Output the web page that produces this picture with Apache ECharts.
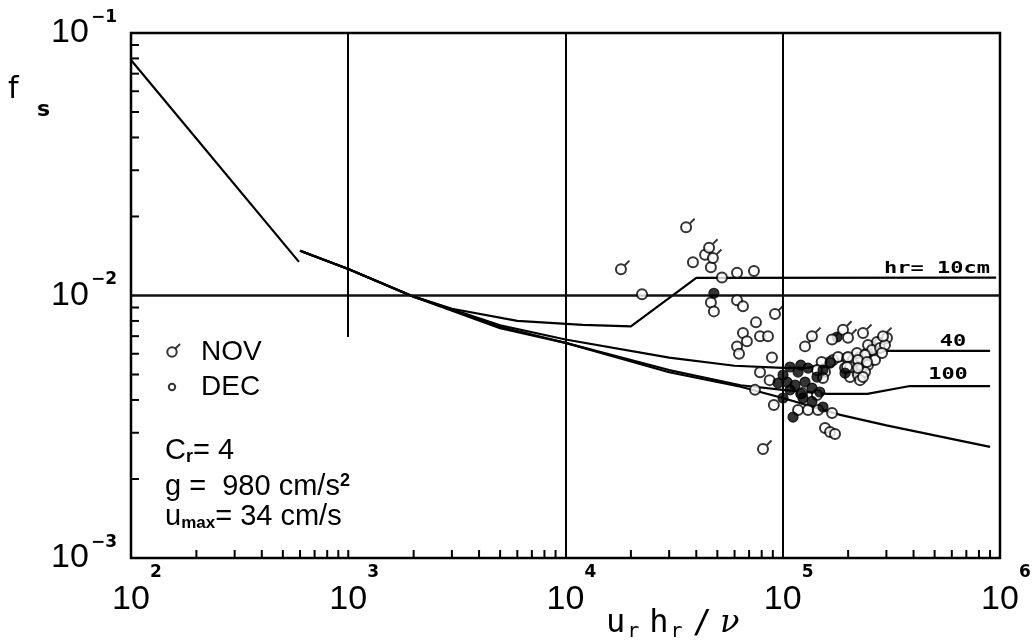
<!DOCTYPE html>
<html>
<head>
<meta charset="utf-8">
<script src="https://cdn.jsdelivr.net/npm/echarts@6/dist/echarts.min.js"></script>
<style>
  html, body { margin: 0; padding: 0; background: #fff; }
  #chart { width: 1035px; height: 643px; }
</style>
</head>
<body>
<div id="chart"></div>
<script>
// Axis decades and their exponent labels
const xTickPowers = [2, 3, 4, 5, 6];
const xTickExponents = ['2', '3', '4', '5', '6'];
const yTickPowers = [-3, -2, -1];
const yTickExponents = ['\u22123', '\u22122', '\u22121'];

// Minor tick positions (2..9 within each decade)
const xMinorTicks = [200,300,400,500,600,700,800,900,1000,
  2000,3000,4000,5000,6000,7000,8000,9000,
  20000,30000,40000,50000,60000,70000,80000,90000,
  200000,300000,400000,500000,600000,700000,800000,900000];
const yMinorTicks = [0.002,0.003,0.004,0.005,0.006,0.007,0.008,0.009,
  0.02,0.03,0.04,0.05,0.06,0.07,0.08,0.09];

// Reference lines
const gridX = [1e4, 1e5];
const gridY = [0.01];
const partialGridX = 1000, partialGridTop = 0.1, partialGridBottom = 0.00695;

// Friction factor curves
const laminar = [[100, 0.0789], [593, 0.01343]];
const curveH10 = [[600, 0.0148], [1000, 0.01262], [2000, 0.0099], [3000, 0.0089], [6000, 0.0080],
  [12000, 0.00773], [20000, 0.00763], [40000, 0.01167], [960000, 0.0117]];
const curveH40 = [[600, 0.0148], [1000, 0.01262], [2000, 0.0099], [5000, 0.0077], [10000, 0.0068],
  [30000, 0.0058], [60000, 0.0054], [100000, 0.0053], [130000, 0.0053], [295000, 0.00615], [900000, 0.00615]];
const curveH100 = [[600, 0.0148], [1000, 0.01262], [2000, 0.0099], [5000, 0.0076], [10000, 0.0066],
  [30000, 0.0052], [64000, 0.00455], [100000, 0.00437], [160000, 0.00422], [245000, 0.00422],
  [385000, 0.00452], [900000, 0.00452]];
const curveSmooth = [[600, 0.0148], [1000, 0.01262], [2000, 0.0099], [5000, 0.0075], [10000, 0.0066],
  [30000, 0.0051], [64000, 0.00449], [100000, 0.00407], [184000, 0.00351], [300000, 0.0032], [900000, 0.00265]];

// Measurements
const novPoints = [
  [35900, 0.0182], [18000, 0.0126], [45800, 0.0152], [47700, 0.0139],
  [92100, 0.0085], [126600, 0.0064], [136300, 0.0070], [168600, 0.0068],
  [189400, 0.0074], [199700, 0.0069], [234100, 0.0072], [289400, 0.0070],
  [81100, 0.0026]
];
const decPoints = [
  [38600, 0.0134], [43900, 0.0143], [46700, 0.0128], [52500, 0.0117], [61600, 0.0122], [73700, 0.0124],
  [22500, 0.0101], [46700, 0.0094], [48200, 0.0087], [61600, 0.0096], [65600, 0.0091],
  [75300, 0.0079], [65600, 0.0072], [68400, 0.0067], [78600, 0.0070], [85500, 0.0070],
  [61600, 0.0064], [62900, 0.0060], [89200, 0.0058],
  [78600, 0.0051], [87000, 0.00476], [74500, 0.00437], [91000, 0.00383],
  [117600, 0.00366], [130700, 0.00366], [145300, 0.00366], [168600, 0.00357],
  [156500, 0.00313], [165100, 0.00302], [174000, 0.00297],
  [156500, 0.00511], [170400, 0.00568], [179700, 0.00583], [197600, 0.00578], [210500, 0.00568],
  [226800, 0.00583], [244300, 0.00604], [260300, 0.00637], [280400, 0.00659], [301900, 0.00689],
  [246900, 0.00648], [271600, 0.00665], [257600, 0.00620], [280400, 0.00631], [295500, 0.00648],
  [193500, 0.00529], [210500, 0.00520], [231600, 0.00529], [246900, 0.00543], [265900, 0.00568], [286400, 0.00604],
  [204000, 0.00489], [221900, 0.00498], [239100, 0.00511], [226800, 0.00476], [234100, 0.00489],
  [219600, 0.00604], [239100, 0.00593], [221900, 0.00568], [244300, 0.00558], [199700, 0.00583],
  [204000, 0.00534], [221900, 0.00529], [197600, 0.00534], [165100, 0.00558], [151000, 0.00558],
  [143700, 0.00520], [153200, 0.00485], [122600, 0.00425], [143700, 0.00418]
];
const decDensePoints = [
  [48200, 0.0102], [177800, 0.00695], [108000, 0.00534], [117600, 0.00511], [104600, 0.00468],
  [113900, 0.00456], [126600, 0.00468], [136300, 0.00444], [143700, 0.00489], [153200, 0.00520],
  [165100, 0.00553], [100300, 0.00407], [111500, 0.00344], [123900, 0.00407], [153200, 0.00376],
  [193500, 0.00506], [100300, 0.00498], [108000, 0.00437], [121000, 0.00543], [130700, 0.00529],
  [95100, 0.00464], [121000, 0.00422], [136300, 0.00395], [148000, 0.00429]
];

const NUM_FONT = "'Liberation Sans', 'DejaVu Sans', sans-serif";
const NOV_SYMBOL = 'path://M4,20M7.3,12A4.7,4.7,0,1,1,16.7,12A4.7,4.7,0,1,1,7.3,12ZM15.4,8.6L20,4';
const DEC_ICON = 'path://M4,20M20,4M8.8,12A3.2,3.2,0,1,1,15.2,12A3.2,3.2,0,1,1,8.8,12Z';

const xMin = 100, xMax = 1e6, yMin = 0.001, yMax = 0.1;

function powerOf(v) { return Math.round(Math.log10(v)); }

function lineSeries(data, extra) {
  return Object.assign({
    type: 'line', data: data, showSymbol: false, symbol: 'none', silent: true,
    lineStyle: { color: '#000', width: 2.2 }, z: 2, animation: false
  }, extra || {});
}

function tickSeries(data, horizontal) {
  return {
    type: 'custom', coordinateSystem: 'cartesian2d', silent: true, clip: false, z: 3,
    data: data,
    renderItem: function (params, api) {
      const p = api.coord([api.value(0), api.value(1)]);
      const shape = horizontal
        ? { x1: p[0], y1: p[1], x2: p[0] + 8, y2: p[1] }
        : { x1: p[0], y1: p[1], x2: p[0], y2: p[1] - 8 };
      return { type: 'line', shape: shape, style: { stroke: '#000', lineWidth: 2 } };
    }
  };
}

const chart = echarts.init(document.getElementById('chart'));

chart.setOption({
  animation: false,
  backgroundColor: '#fff',
  grid: { left: 131, right: 35, top: 33, bottom: 85, show: true, borderColor: '#000', borderWidth: 2.5 },
  legend: {
    orient: 'vertical', left: 158, top: 333, itemWidth: 16, itemHeight: 16, itemGap: 7,
    selectedMode: false,
    data: [{ name: 'NOV', icon: NOV_SYMBOL }, { name: 'DEC', icon: DEC_ICON }],
    formatter: function (name) { return '{t|' + name + '}'; },
    textStyle: {
      rich: { t: { fontFamily: NUM_FONT, fontSize: 28, lineHeight: 28, color: '#000', padding: [0, 0, 0, 16] } }
    }
  },
  xAxis: {
    type: 'log', logBase: 10, min: xMin, max: xMax,
    axisLine: { show: false }, axisTick: { show: false }, splitLine: { show: false }, minorTick: { show: false },
    axisLabel: {
      show: true, margin: 5, showMinLabel: true, showMaxLabel: true,
      formatter: function (v) {
        const i = xTickPowers.indexOf(powerOf(v));
        return '{e|' + xTickExponents[i] + '}\n{b|10}';
      },
      rich: {
        e: { fontFamily: 'DejaVu Sans', fontWeight: 'bold', fontSize: 17, lineHeight: 20, padding: [0, 0, 0, 50], align: 'center', color: '#000' },
        b: { fontFamily: NUM_FONT, fontSize: 34, lineHeight: 34, align: 'center', color: '#000' }
      }
    }
  },
  yAxis: {
    type: 'log', logBase: 10, min: yMin, max: yMax,
    axisLine: { show: false }, axisTick: { show: false }, splitLine: { show: false }, minorTick: { show: false },
    axisLabel: {
      show: true, margin: 14, showMinLabel: true, showMaxLabel: true,
      formatter: function (v) {
        const i = yTickPowers.indexOf(powerOf(v));
        return '{b|10}{e|' + yTickExponents[i] + '}';
      },
      rich: {
        b: { fontFamily: NUM_FONT, fontSize: 34, lineHeight: 48, color: '#000' },
        e: { fontFamily: 'DejaVu Sans', fontWeight: 'bold', fontSize: 17, lineHeight: 18, verticalAlign: 'top', padding: [0, 0, 0, 2], color: '#000' }
      }
    }
  },
  series: [
    lineSeries(laminar),
    lineSeries(curveH10),
    lineSeries(curveH40),
    lineSeries(curveH100),
    lineSeries(curveSmooth, {
      markLine: {
        silent: true, symbol: ['none', 'none'], label: { show: false }, animation: false,
        lineStyle: { color: '#000', width: 2, type: 'solid' },
        data: gridX.map(function (x) { return { xAxis: x }; })
          .concat(gridY.map(function (y) { return { yAxis: y, lineStyle: { width: 2.5, color: '#111' } }; }))
          .concat([[{ coord: [partialGridX, partialGridTop] }, { coord: [partialGridX, partialGridBottom] }]])
      }
    }),
    tickSeries(xMinorTicks.map(function (v) { return [v, yMin]; }), false),
    tickSeries(yMinorTicks.map(function (v) { return [xMin, v]; }), true),
    {
      name: 'DEC', type: 'scatter', data: decPoints, symbol: 'circle', symbolSize: 10, z: 5,
      itemStyle: { color: '#fff', borderColor: '#000', borderWidth: 2 }
    },
    {
      name: 'DEC', type: 'scatter', data: decDensePoints, symbol: 'circle', symbolSize: 10, z: 6,
      itemStyle: { color: '#000', borderColor: '#000', borderWidth: 1.2 }
    },
    {
      name: 'NOV', type: 'scatter', data: novPoints, symbol: NOV_SYMBOL, symbolSize: 17, z: 7,
      itemStyle: { color: '#fff', borderColor: '#000', borderWidth: 2 }
    }
  ],
  graphic: [
    { type: 'text', x: 8, y: 90, style: { text: 'f', font: '30px DejaVu Sans', fill: '#000', verticalAlign: 'middle' } },
    { type: 'text', x: 37, y: 110, style: { text: 's', font: 'bold 22px DejaVu Sans', fill: '#000', verticalAlign: 'middle' } },
    {
      type: 'text', x: 606, y: 624,
      style: {
        text: '{m|u}{s|r}{m|h}{s|r}{m|/}{v|\u03bd}', verticalAlign: 'middle', fill: '#000',
        rich: {
          m: { fontFamily: 'DejaVu Sans Mono', fontSize: 32, lineHeight: 36, fill: '#000', padding: [0, 2, 0, 0] },
          s: { fontFamily: 'DejaVu Sans Mono', fontSize: 20, lineHeight: 36, verticalAlign: 'bottom', padding: [0, 10, 0, 0], fill: '#000' },
          v: { fontFamily: 'DejaVu Serif', fontStyle: 'italic', fontSize: 32, lineHeight: 36, fill: '#000', padding: [0, 0, 0, 6] }
        }
      }
    },
    {
      type: 'text', x: 165, y: 451,
      style: {
        text: '{a|C}{s|r}{a|= 4}', verticalAlign: 'middle', fill: '#000',
        rich: {
          a: { fontFamily: NUM_FONT, fontSize: 29, lineHeight: 30, fill: '#000' },
          s: { fontFamily: NUM_FONT, fontSize: 18, fontWeight: 'bold', lineHeight: 30, verticalAlign: 'bottom', fill: '#000' }
        }
      }
    },
    {
      type: 'text', x: 165, y: 487,
      style: {
        text: '{a|g =  980 cm/s}{p|2}', verticalAlign: 'middle', fill: '#000',
        rich: {
          a: { fontFamily: NUM_FONT, fontSize: 29, lineHeight: 30, fill: '#000' },
          p: { fontFamily: NUM_FONT, fontSize: 18, fontWeight: 'bold', lineHeight: 30, verticalAlign: 'top', fill: '#000' }
        }
      }
    },
    {
      type: 'text', x: 165, y: 517,
      style: {
        text: '{a|u}{s|max}{a|= 34 cm/s}', verticalAlign: 'middle', fill: '#000',
        rich: {
          a: { fontFamily: NUM_FONT, fontSize: 29, lineHeight: 30, fill: '#000' },
          s: { fontFamily: NUM_FONT, fontSize: 17, fontWeight: 'bold', lineHeight: 30, verticalAlign: 'bottom', fill: '#000' }
        }
      }
    },
    { type: 'text', x: 937, y: 269, scaleY: 0.72, style: { text: 'hr= 10cm', font: 'bold 22px DejaVu Sans Mono', fill: '#000', align: 'center', verticalAlign: 'middle' } },
    { type: 'text', x: 953, y: 342, scaleY: 0.72, style: { text: '40', font: 'bold 22px DejaVu Sans Mono', fill: '#000', align: 'center', verticalAlign: 'middle' } },
    { type: 'text', x: 948, y: 375, scaleY: 0.72, style: { text: '100', font: 'bold 22px DejaVu Sans Mono', fill: '#000', align: 'center', verticalAlign: 'middle' } }
  ]
});
</script>
</body>
</html>
